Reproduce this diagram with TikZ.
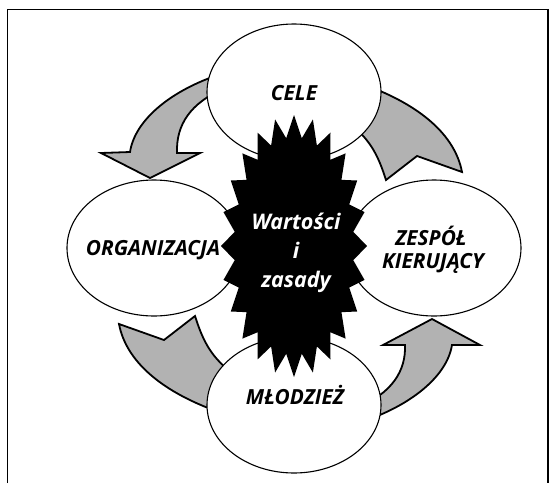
\documentclass[tikz,border=0pt]{standalone}
\usepackage{fontspec}
\setmainfont{Open Sans}
\usetikzlibrary{shapes.geometric}
\definecolor{arrowgray}{RGB}{178,178,178}
\begin{document}
\begin{tikzpicture}[x=1pt,y=-1pt,
  bubble/.style={draw=black,line width=1.1pt,fill=white,ellipse,minimum width=174pt,minimum height=136pt,inner sep=0pt},
  flow/.style={draw=black,line width=1.8pt,fill=arrowgray,line join=miter},
  lbl/.style={font=\fontsize{20.8}{25}\selectfont\bfseries\itshape,anchor=base,inner sep=0pt},
  slbl/.style={font=\fontsize{21.5}{26}\selectfont\bfseries\itshape,text=white,anchor=base,inner sep=0pt}]
\useasboundingbox (0,0) rectangle (552,483);
\draw[line width=1.4pt] (7.5,483) -- (7.5,9.5) -- (548,9.5) -- (548,483);
% arrows (drawn below the ellipses)
\path[flow] (215,76) .. controls (170,92) and (135,120) .. (130,152)
  -- (101,153) -- (150,178) -- (200,153) -- (177,153)
  .. controls (176,125) and (190,103) .. (225,88) -- cycle;
\path[flow] (365,85) .. controls (420,105) and (455,135) .. (462,172)
  -- (417,156) -- (386,180)
  .. controls (378,155) and (370,138) .. (345,120) -- cycle;
\path[flow] (216,411) .. controls (161,391) and (126,361) .. (119,324)
  -- (164,340) -- (195,316)
  .. controls (203,341) and (211,358) .. (236,376) -- cycle;
\path[flow] (367,420) .. controls (412,404) and (447,376) .. (452,345)
  -- (480,345) -- (432,319) -- (383,345) -- (405,345)
  .. controls (406,371) and (392,393) .. (357,408) -- cycle;
% ellipses
\node[bubble] (cele) at (294,92) {};
\node[bubble] (org) at (154,248) {};
\node[bubble] (zes) at (434,248) {};
\node[bubble] (mlo) at (294,405) {};
% star
\coordinate (starc) at (294,246);
\fill[black] (294,115) \foreach \i in {0,...,23}{
  -- ({294+59.8*cos(97.5+15*\i)},{246-108.7*sin(97.5+15*\i)})
  -- ({294+73*cos(105+15*\i)},{246-131*sin(105+15*\i)}) } -- cycle;
% labels
\node[lbl] (tcele) at (294,100.7) {CELE};
\node[lbl] (torg) at (153,255) {ORGANIZACJA};
\node[lbl] (tzes1) at (431,245) {ZESPÓŁ};
\node[lbl] (tzes2) at (433,268.3) {KIERUJĄCY};
\node[lbl] (tmlo) at (295,404) {MŁODZIEŻ};
\node[slbl] (ts1) at (296,229) {Wartości};
\node[slbl] (ts2) at (296,258) {i};
\node[slbl] (ts3) at (296,287) {zasady};
\end{tikzpicture}
\end{document}
